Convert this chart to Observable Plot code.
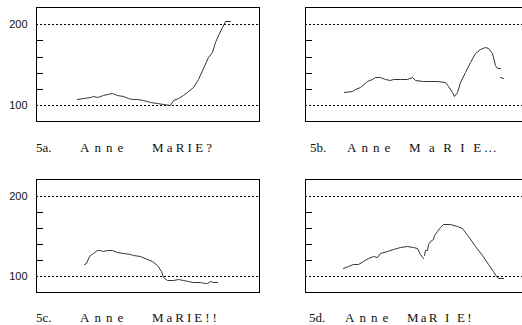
<!DOCTYPE html>
<html>
<head>
<meta charset="utf-8">
<script src="https://cdn.jsdelivr.net/npm/d3@7"></script>
<script src="https://cdn.jsdelivr.net/npm/@observablehq/plot@0.6"></script>
<style>
  html, body { margin: 0; padding: 0; background: #fff; overflow: hidden; width: 522px; height: 325px; }
  #root { position: relative; width: 522px; height: 325px; overflow: hidden; }
  .cap { position: absolute; font-family: "Liberation Serif", "Times New Roman", serif; font-size: 13px; line-height: 13px; color: #111; white-space: pre; }
</style>
</head>
<body>
<div id="root"></div>
<script>
// Pitch contours (time frame, Hz)
const frames5a = [41,47,54,57,61,64,67,71,76,81,87,92,96,101,107,114,121,127,134,137,142,147,152,157,162,167,172,176,179,182,186,189,194];
const hz5a     = [107,109,110,111.6,110,111,112,114,114.5,113,111,109,107.4,108,106,103.7,102.5,100.8,100.4,106,109,112,117.8,122.7,131.8,145.5,159,166,178.5,186.8,196.3,204,204];
const seg5a    = frames5a.map(() => 0);

const frames5b = [39,47,50,55,62,67,70,75,80,85,88,95,102,107,110,118,132,140,143,147,149,152,155,160,165,170,175,180,183,187,190,192,195, 195,198];
const hz5b     = [116.5,117.4,120.2,122.7,130.2,132.2,134.3,134.3,132.6,131,131.8,131.8,132.2,134.3,131,130.2,129.8,128.5,123.6,116.5,111.2,116.5,128.9,141.3,153.7,164,169,172.3,171,164,149.6,146.3,146.3, 135.1,133];
const seg5b    = [0,0,0,0,0,0,0,0,0,0,0,0,0,0,0,0,0,0,0,0,0,0,0,0,0,0,0,0,0,0,0,0,0, 1,1];

const frames5c = [48,50,53,57,61,64,67,71,76,81,87,94,97,104,111,116,121,125,127,131,137,142,147,152,157,164,169,171,174,177,181];
const hz5c     = [115.6,116.9,125.1,128.8,133.3,132.9,131.3,132.1,132.1,130,128.8,127.6,125.9,124.7,121.8,118.5,113.6,106.2,99.2,95.1,94.7,95.9,95.1,93.8,93,92.2,90.9,91.4,94.2,92.6,92.2];
const seg5c    = frames5c.map(() => 0);

const frames5d = [38,43,48,53,58,63,68,72,75,82,88,95,102,108,112,115,118, 119,120,122,123,125,128,129,132,135,138,145,152,157,163,170,177,183,188,191,193,198];
const hz5d     = [110.3,112.3,115.6,114.8,118.5,122.6,125.1,123.9,129.2,131.3,134.2,136.6,137.9,137,135.4,128,122.6, 125.9,132.1,133,140.3,144.4,146.5,151.9,156.8,161.7,165,165,163,159.7,150.6,138.3,125.9,115.6,106.2,100,97.9,97.9];
const seg5d    = [0,0,0,0,0,0,0,0,0,0,0,0,0,0,0,0,0, 1,1,1,1,1,1,1,1,1,1,1,1,1,1,1,1,1,1,1,1,1];

const refLines   = [100, 200];
const minorTicks = [120, 140, 160, 180];
const yDomain    = [80.2, 221.4];
const xDomain    = [0, 223];

// Captions: [label, word1, word2]
const captions = [
  ["5a.", "Anne", "MaRIE?"],
  ["5b.", "Anne", "M a R I E…"],
  ["5c.", "Anne", "MaRIE!!"],
  ["5d.", "Anne", "MaR I E!"]
];

const panels = [
  {frames: frames5a, hz: hz5a, seg: seg5a, left: 0,   top: 0,   h: 122, labels: true},
  {frames: frames5b, hz: hz5b, seg: seg5b, left: 269, top: 0,   h: 122, labels: false},
  {frames: frames5c, hz: hz5c, seg: seg5c, left: 0,   top: 172, h: 121, labels: true},
  {frames: frames5d, hz: hz5d, seg: seg5d, left: 269, top: 172, h: 121, labels: false}
];

const capPos = [
  {top: 141, xs: [36, 80, 152], sp: [0, 5, 3.2]},
  {top: 141, xs: [310, 347, 409], sp: [0, 5, 2.6]},
  {top: 311, xs: [36, 80, 152], sp: [0, 5, 3]},
  {top: 311, xs: [309, 345, 407], sp: [0, 5, 2.2]}
];

const root = document.getElementById("root");

panels.forEach((p, i) => {
  const data = p.frames.map((f, j) => ({t: f, hz: p.hz[j], seg: p.seg[j]}));
  const marks = [
    Plot.ruleY(refLines, {stroke: "#000", strokeWidth: 1, strokeDasharray: "2,2"}),
    Plot.tickY(minorTicks, {y: d => d, stroke: "#000", strokeWidth: 1, insetRight: 216}),
    Plot.line(data, {x: "t", y: "hz", z: "seg", stroke: "#333", strokeWidth: 1}),
    Plot.frame({stroke: "#000", strokeWidth: 1})
  ];
  if (p.labels) {
    marks.push(Plot.axisY({ticks: refLines, tickSize: 0, tickPadding: 9, tickFormat: d => String(d), label: null,
      fontSize: 11, fill: "#111"}));
  }
  const svg = Plot.plot({
    width: 260,
    height: p.h,
    marginLeft: 36,
    marginRight: 1,
    marginTop: 7,
    marginBottom: 1,
    style: {fontFamily: "'Liberation Sans', Arial, sans-serif", fontSize: "11px", background: "transparent", overflow: "visible"},
    x: {domain: xDomain, axis: null},
    y: {domain: yDomain, axis: null, round: true},
    marks
  });
  svg.style.left = p.left + "px";
  svg.style.top = p.top + "px";
  svg.style.position = "absolute";
  root.appendChild(svg);

  const c = captions[i], pos = capPos[i];
  c.forEach((txt, k) => {
    const d = document.createElement("div");
    d.className = "cap";
    d.textContent = txt;
    d.style.left = pos.xs[k] + "px";
    d.style.top = pos.top + "px";
    d.style.letterSpacing = pos.sp[k] + "px";
    root.appendChild(d);
  });
});
</script>
</body>
</html>
